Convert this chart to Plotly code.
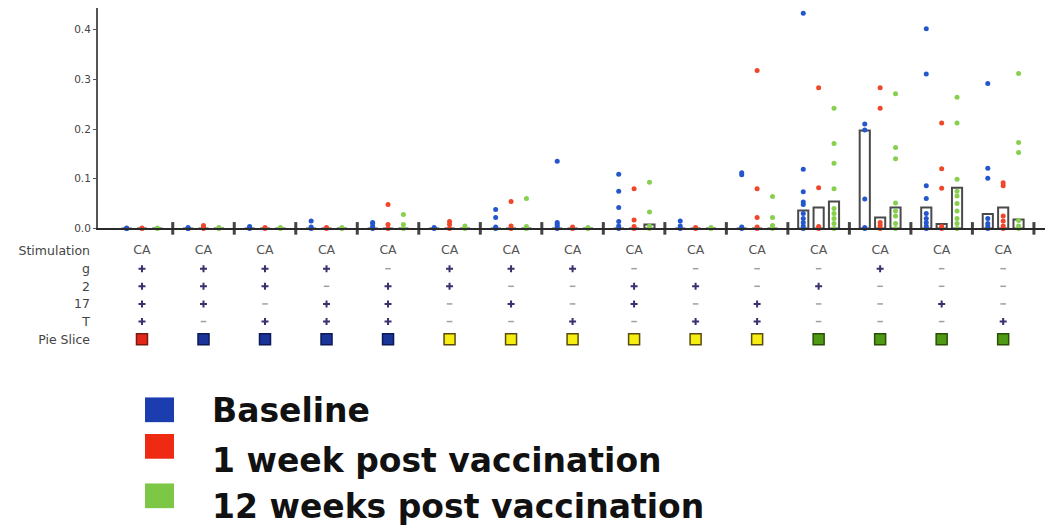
import plotly.graph_objects as go

# ---------------- data ----------------
groups = list(range(15))
stim_labels = ["CA"] * 15
row_names = ["Stimulation", "g", "2", "17", "T", "Pie Slice"]
sign_g  = ["+", "+", "+", "+", "-", "+", "+", "+", "-", "-", "-", "-", "+", "-", "-"]
sign_2  = ["+", "+", "+", "-", "+", "+", "-", "-", "+", "+", "-", "+", "-", "-", "-"]
sign_17 = ["+", "+", "-", "+", "+", "-", "+", "-", "+", "-", "+", "-", "-", "+", "-"]
sign_T  = ["+", "-", "+", "+", "+", "-", "-", "+", "-", "+", "+", "-", "-", "-", "+"]
pie_slice = ["red", "blue", "blue", "blue", "blue", "yellow", "yellow", "yellow",
             "yellow", "yellow", "yellow", "green", "green", "green", "green"]

series_names = ["Baseline", "1 week post vaccination", "12 weeks post vaccination"]

baseline_pts = [
    [0, 0, 0.001], [0, 0, 0.002], [0, 0.002, 0.004], [0, 0.003, 0.015],
    [0, 0.004, 0.010, 0.012], [0, 0.002], [0, 0.003, 0.022, 0.038],
    [0, 0.004, 0.008, 0.012, 0.135], [0, 0.005, 0.014, 0.042, 0.075, 0.109],
    [0, 0.005, 0.015], [0, 0.003, 0.108, 0.112],
    [0, 0.005, 0.012, 0.020, 0.030, 0.048, 0.053, 0.074, 0.119, 0.433],
    [0, 0.002, 0.059, 0.198, 0.210],
    [0, 0.005, 0.012, 0.020, 0.030, 0.060, 0.086, 0.311, 0.402],
    [0, 0.005, 0.010, 0.020, 0.101, 0.121, 0.292],
]
week1_pts = [
    [0, 0.001], [0, 0.003, 0.006], [0, 0.002], [0, 0.002],
    [0, 0.008, 0.048], [0, 0.008, 0.014], [0, 0.005, 0.054], [0, 0.003],
    [0, 0.004, 0.017, 0.080], [0, 0.002], [0, 0.003, 0.022, 0.080, 0.318],
    [0, 0.004, 0.082, 0.283], [0, 0.006, 0.012, 0.242, 0.283, 0.445],
    [0, 0.004, 0.081, 0.120, 0.212], [0, 0.005, 0.015, 0.025, 0.086, 0.092],
]
week12_pts = [
    [0, 0.001], [0, 0.002], [0, 0.002], [0, 0.002],
    [0, 0.008, 0.028], [0, 0.005], [0, 0.004, 0.060], [0, 0.002],
    [0, 0.005, 0.033, 0.093], [0, 0.002], [0, 0.006, 0.022, 0.064],
    [0, 0.010, 0.020, 0.030, 0.040, 0.080, 0.131, 0.171, 0.242],
    [0, 0.010, 0.025, 0.035, 0.051, 0.140, 0.163, 0.271],
    [0, 0.010, 0.020, 0.035, 0.050, 0.065, 0.075, 0.099, 0.212, 0.264],
    [0, 0.005, 0.016, 0.153, 0.173, 0.312],
]
baseline_med = [0, 0, 0, 0, 0, 0, 0, 0, 0, 0, 0, 0.036, 0.197, 0.042, 0.029]
week1_med    = [0, 0, 0, 0, 0, 0, 0, 0, 0, 0, 0, 0.042, 0.022, 0.009, 0.042]
week12_med   = [0, 0, 0, 0, 0, 0, 0, 0, 0.008, 0, 0, 0.054, 0.042, 0.082, 0.018]

y_ticks = [0.0, 0.1, 0.2, 0.3, 0.4]

# ---------------- styling ----------------
colors = ["#2456cc", "#f0462a", "#86d04e"]
legend_colors = ["#1c3db0", "#ee2a12", "#7cc846"]
offsets = [-0.25, 0.0, 0.25]
pie_fill = {"red": "#e3261a", "blue": "#1a3499", "yellow": "#f6ee10", "green": "#4f9a14"}
pie_line = {"red": "#7a1a10", "blue": "#0d1a55", "yellow": "#5a4a10", "green": "#2a5008"}
FONT = "DejaVu Sans"

fig = go.Figure()

# median bars
for name, meds, off in zip(series_names, [baseline_med, week1_med, week12_med], offsets):
    fig.add_trace(go.Bar(
        x=[g + off for g in groups], y=meds, width=0.165,
        marker=dict(color="rgba(255,255,255,0.6)", line=dict(color="#4a4a4a", width=2)),
        showlegend=False, name=name, xaxis="x", yaxis="y"))

# individual points
for name, pts, off, col in zip(series_names, [baseline_pts, week1_pts, week12_pts], offsets, colors):
    xs, ys = [], []
    for g, vals in zip(groups, pts):
        for v in vals:
            xs.append(g + off)
            ys.append(v)
    fig.add_trace(go.Scatter(
        x=xs, y=ys, mode="markers", name=name, cliponaxis=False,
        marker=dict(color=col, size=5, line=dict(width=0)),
        showlegend=False, xaxis="x", yaxis="y"))

# group separators on the baseline
fig.add_trace(go.Scatter(
    x=[g + 0.5 for g in groups], y=[0] * len(groups), mode="markers", cliponaxis=False,
    marker=dict(symbol="line-ns-open", size=9, color="#444444",
                line=dict(color="#444444", width=3)),
    showlegend=False, xaxis="x", yaxis="y"))

# ----- annotation rows below (second subplot) -----
fig.add_trace(go.Scatter(
    x=groups, y=["Stimulation"] * 15, mode="text", text=stim_labels,
    textfont=dict(family=FONT, size=12.5, color="#555555"),
    showlegend=False, xaxis="x2", yaxis="y2", cliponaxis=False))

for row, signs in zip(["g", "2", "17", "T"], [sign_g, sign_2, sign_17, sign_T]):
    px = [g for g, s in zip(groups, signs) if s == "+"]
    mx = [g for g, s in zip(groups, signs) if s == "-"]
    fig.add_trace(go.Scatter(
        x=px, y=[row] * len(px), mode="markers", cliponaxis=False,
        marker=dict(symbol="cross-thin", size=5, color="#3d2e6e",
                    line=dict(color="#3d2e6e", width=2)),
        showlegend=False, xaxis="x2", yaxis="y2"))
    fig.add_trace(go.Scatter(
        x=mx, y=[row] * len(mx), mode="markers", cliponaxis=False,
        marker=dict(symbol="line-ew", size=4, color="#a0a0a0",
                    line=dict(color="#a0a0a0", width=1.5)),
        showlegend=False, xaxis="x2", yaxis="y2"))

fig.add_trace(go.Scatter(
    x=groups, y=["Pie Slice"] * 15, mode="markers", cliponaxis=False,
    marker=dict(symbol="square", size=11,
                color=[pie_fill[c] for c in pie_slice],
                line=dict(color=[pie_line[c] for c in pie_slice], width=1.5)),
    showlegend=False, xaxis="x2", yaxis="y2"))

# ---------------- layout ----------------
W, H = 1050, 529
x_range = [-0.715, 14.68]
fig.update_layout(
    width=W, height=H, margin=dict(l=0, r=0, t=0, b=0),
    paper_bgcolor="white", plot_bgcolor="white", barmode="overlay",
    showlegend=False,
    font=dict(family=FONT, size=10, color="#444444"),
    xaxis=dict(domain=[98 / W, 1045 / W], range=x_range, showgrid=False, zeroline=False,
               showline=True, linecolor="#2a2a2a", linewidth=2, showticklabels=False,
               ticks="", anchor="y"),
    yaxis=dict(domain=[1 - 231 / H, 1 - 8 / H], range=[0, 0.444], showgrid=False,
               zeroline=False, showline=True, linecolor="#555555", linewidth=2,
               tickvals=y_ticks, ticktext=[f"{v:.1f}" for v in y_ticks],
               ticks="outside", ticklen=3, tickcolor="#555555", tickwidth=1,
               tickfont=dict(family=FONT, size=10.5, color="#444444"), anchor="x"),
    xaxis2=dict(domain=[98 / W, 1045 / W], matches="x", range=x_range, visible=False,
                anchor="y2"),
    yaxis2=dict(domain=[1 - 352 / H, 1 - 245 / H], type="category",
                categoryorder="array", categoryarray=row_names, range=[5.5, -0.5],
                showgrid=False, zeroline=False, showline=False, ticks="",
                ticklabelstandoff=7, tickfont=dict(family=FONT, size=12.5, color="#444444"),
                anchor="x2"),
)

# ---------------- legend (drawn manually to match large squares) ----------------
sq_tops = [402, 439, 489]
txt_centers = [415.5, 465.5, 512]
for name, col, top, tc in zip(series_names, legend_colors, sq_tops, txt_centers):
    fig.add_shape(type="rect", xref="paper", yref="paper",
                  x0=145 / W, x1=174 / W, y0=1 - (top + 25) / H, y1=1 - top / H,
                  fillcolor=col, line=dict(width=0))
    fig.add_annotation(xref="paper", yref="paper", x=210 / W, y=1 - tc / H,
                       xanchor="left", yanchor="middle", showarrow=False, text=name,
                       font=dict(family=FONT, size=33, color="#111111", weight="bold"))

fig.write_html("out.html", config={"displayModeBar": False},
               post_script="document.body.style.margin='0';")
